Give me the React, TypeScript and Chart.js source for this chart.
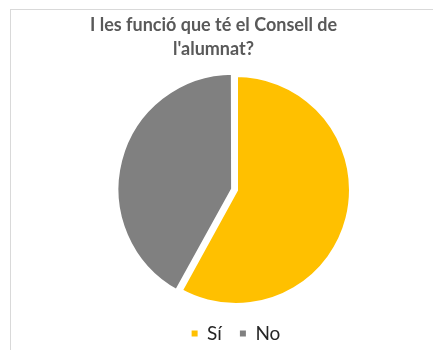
import React, { useEffect, useRef } from "react";
import { Chart, registerables, layouts, DoughnutController } from "chart.js";

Chart.register(...registerables);

const titleLines = ["I les funció que té el Consell de", "l'alumnat?"];
const categories = ["Sí", "No"];
const values = [58, 42];
const colors = ["#FFC000", "#808080"];
const explode = [0, 12];

const CANVAS_W = 405;
const CANVAS_H = 343;
const LEFT_SPACER = 45;

const leftSpacer = {
  id: "leftSpacer",
  beforeInit(chart: any) {
    const box: any = {
      id: "leftSpacerBox",
      position: "left",
      weight: 0,
      fullSize: false,
      options: {},
      top: 0,
      left: 0,
      right: 0,
      bottom: 0,
      width: 0,
      height: 0,
      isHorizontal() {
        return false;
      },
      update(_maxW: number, maxH: number) {
        this.width = LEFT_SPACER;
        this.height = maxH;
      },
      draw() {},
    };
    layouts.addBox(chart, box);
  },
};

export default function App() {
  const ref = useRef<HTMLCanvasElement | null>(null);

  useEffect(() => {
    if (!ref.current) return;
    Chart.defaults.font.family = "Lato, 'Open Sans', sans-serif";
    const baseGen = (DoughnutController as any).overrides.plugins.legend.labels.generateLabels;
    const chart = new Chart(ref.current, {
      type: "pie",
      data: {
        labels: categories,
        datasets: [
          {
            data: values,
            backgroundColor: colors,
            borderColor: "#ffffff",
            borderWidth: 4,
            borderJoinStyle: "miter",
            offset: explode,
            hoverOffset: 0,
            radius: 115,
          } as any,
        ],
      },
      options: {
        responsive: false,
        animation: false,
        layout: { padding: 0 },
        plugins: {
          title: {
            display: true,
            text: titleLines,
            color: "#595959",
            font: { size: 18, weight: "bold", lineHeight: 24 / 18 },
            padding: { top: 3, bottom: 13 },
          },
          legend: {
            display: true,
            position: "bottom",
            fullSize: false,
            labels: {
              color: "#262626",
              font: { size: 19 },
              boxWidth: 6,
              boxHeight: 6,
              padding: 18,
              generateLabels: (c: any) =>
                baseGen(c).map((it: any) => ({ ...it, lineWidth: 0, strokeStyle: "rgba(0,0,0,0)" })),
            },
          },
          tooltip: { enabled: false },
        },
      },
      plugins: [leftSpacer as any],
    });
    return () => chart.destroy();
  }, []);

  return (
    <div
      style={{
        position: "absolute",
        left: 10,
        top: 9,
        width: 423,
        height: 341,
        boxSizing: "border-box",
        borderLeft: "1px solid #d9d9d9",
        borderTop: "1px solid #d9d9d9",
        overflow: "hidden",
        background: "#ffffff",
      }}
    >
      <canvas ref={ref} width={CANVAS_W} height={CANVAS_H} style={{ display: "block" }} />
    </div>
  );
}
